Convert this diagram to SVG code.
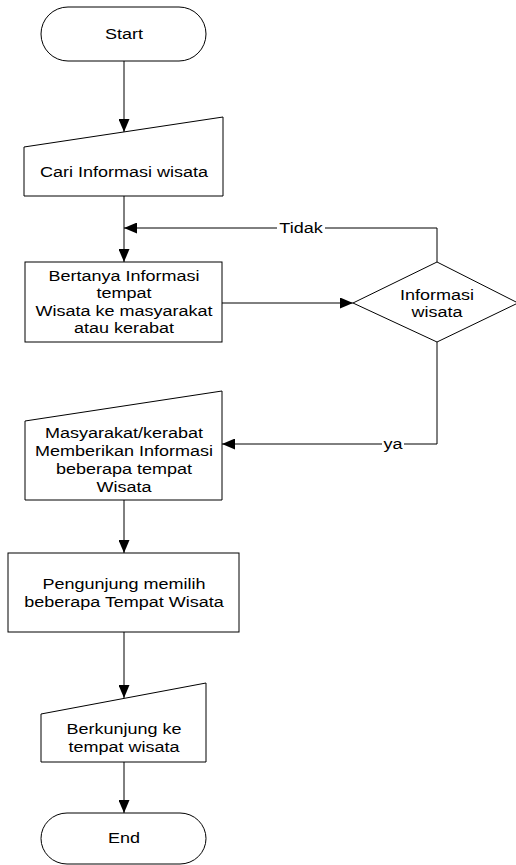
<svg xmlns="http://www.w3.org/2000/svg" width="516" height="865" viewBox="0 0 516 865">
<style>
.s{fill:#fff;stroke:#000;stroke-width:1}
.c{fill:none;stroke:#000;stroke-width:1}
text{font-family:"Liberation Sans",Arial,sans-serif;font-size:15px;fill:#000;text-anchor:middle}
</style>
<defs>
<marker id="a" markerUnits="userSpaceOnUse" markerWidth="13" markerHeight="11" refX="13" refY="5.5" orient="auto">
<path d="M0,0 L13,5.5 L0,11 z" fill="#000"/>
</marker>
</defs>
<rect width="516" height="865" fill="#fff"/>
<g id="connectors">
<path class="c" d="M124,61 V132" marker-end="url(#a)"/>
<path class="c" d="M124,196 V262" marker-end="url(#a)"/>
<path class="c" d="M437,262 V228 H124" marker-end="url(#a)"/>
<path class="c" d="M222,303 H353" marker-end="url(#a)"/>
<path class="c" d="M437,342 V444 H222" marker-end="url(#a)"/>
<path class="c" d="M124,500 V553" marker-end="url(#a)"/>
<path class="c" d="M124,632 V698" marker-end="url(#a)"/>
<path class="c" d="M124,762 V813" marker-end="url(#a)"/>
<rect x="277" y="221" width="48" height="14" fill="#fff"/>
<text transform="translate(301,233) scale(1.2,1)">Tidak</text>
<rect x="382" y="437" width="22" height="14" fill="#fff"/>
<text transform="translate(393,449) scale(1.2,1)">ya</text>
</g>
<g id="start">
<rect class="s" x="41" y="7" width="165" height="54" rx="27" ry="27"/>
<text transform="translate(124,38.5) scale(1.2,1)">Start</text>
</g>
<g id="cari">
<path class="s" d="M24,147 L223,117 L223,196 L24,196 Z"/>
<text transform="translate(124,177) scale(1.2,1)">Cari Informasi wisata</text>
</g>
<g id="bertanya">
<rect class="s" x="25" y="262" width="197" height="80"/>
<text transform="translate(124,280.5) scale(1.2,1)">Bertanya Informasi</text>
<text transform="translate(124,298) scale(1.2,1)">tempat</text>
<text transform="translate(124,315.5) scale(1.2,1)">Wisata ke masyarakat</text>
<text transform="translate(124,333) scale(1.2,1)">atau kerabat</text>
</g>
<g id="informasi">
<path class="s" d="M353,303 L437,262 L518,303 L437,342 Z"/>
<text transform="translate(437,300) scale(1.2,1)">Informasi</text>
<text transform="translate(437,317) scale(1.2,1)">wisata</text>
</g>
<g id="masyarakat">
<path class="s" d="M25,421 L222,391 L222,500 L25,500 Z"/>
<text transform="translate(124,438) scale(1.2,1)">Masyarakat/kerabat</text>
<text transform="translate(124,456) scale(1.2,1)">Memberikan Informasi</text>
<text transform="translate(124,474) scale(1.2,1)">beberapa tempat</text>
<text transform="translate(124,492) scale(1.2,1)">Wisata</text>
</g>
<g id="pengunjung">
<rect class="s" x="8" y="553" width="231" height="79"/>
<text transform="translate(124,589) scale(1.2,1)">Pengunjung memilih</text>
<text transform="translate(124,607) scale(1.2,1)">beberapa Tempat Wisata</text>
</g>
<g id="berkunjung">
<path class="s" d="M41,714 L206,683 L206,762 L41,762 Z"/>
<text transform="translate(124,734) scale(1.2,1)">Berkunjung ke</text>
<text transform="translate(124,752) scale(1.2,1)">tempat wisata</text>
</g>
<g id="end">
<rect class="s" x="41" y="813" width="165" height="51" rx="26" ry="25.5"/>
<text transform="translate(124,843) scale(1.2,1)">End</text>
</g>
</svg>
